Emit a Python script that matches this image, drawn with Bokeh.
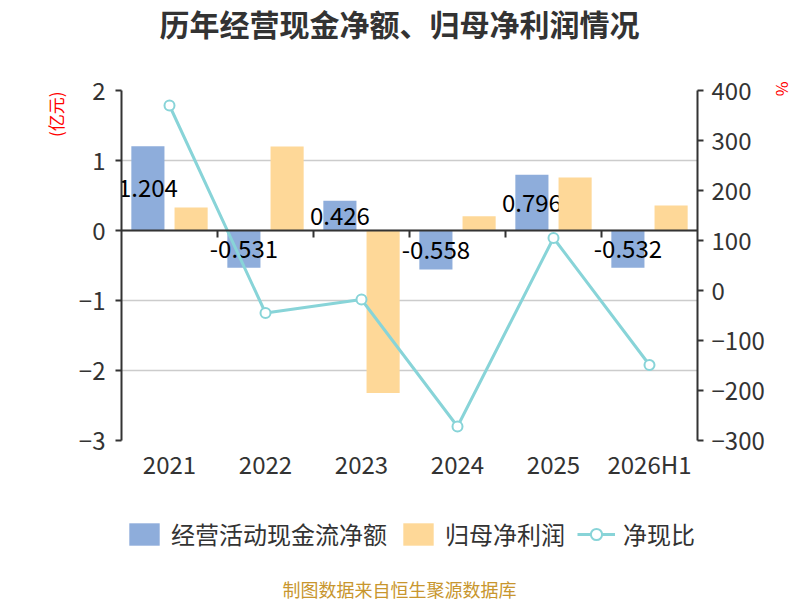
from bokeh.plotting import figure
from bokeh.layouts import column
from bokeh.models import (Range1d, LinearAxis, FixedTicker, Span, Legend, LegendItem,
                          Title, ColumnDataSource)
from bokeh.core.properties import value
from bokeh.embed import file_html
from bokeh.resources import INLINE

# ---- data ----
categories = ["2021", "2022", "2023", "2024", "2025", "2026H1"]
cash_flow = [1.204, -0.531, 0.426, -0.558, 0.796, -0.532]      # 经营活动现金流净额 (亿元)
net_profit = [0.33, 1.20, -2.32, 0.205, 0.757, 0.357]           # 归母净利润 (亿元)
cash_ratio = [370, -45, -18, -272, 105, -149]                   # 净现比 (%)
left_ticks = [-3, -2, -1, 0, 1, 2]
right_ticks = [-300, -200, -100, 0, 100, 200, 300, 400]
title_text = "历年经营现金净额、归母净利润情况"
source_text = "制图数据来自恒生聚源数据库"
series_names = ["经营活动现金流净额", "归母净利润", "净现比"]

FONT = "Noto Sans CJK SC"
BLUE = "#8eaddb"
ORANGE = "#fed898"
TEAL = "#88d4d8"
AX = "#333333"

W = 800
H_TOP, H_MAIN, H_BOT = 60, 430, 110
FL, FR = 121, 699          # frame edges shared by the stacked figures
NAN = float("nan")


def bare(fig):
    fig.outline_line_color = None
    fig.background_fill_color = "white"
    fig.border_fill_color = "white"
    fig.xgrid.grid_line_color = None
    fig.ygrid.grid_line_color = None


# ---------- title strip ----------
p0 = figure(width=W, height=H_TOP, output_backend="svg", toolbar_location=None,
            x_range=Range1d(FL, FR), y_range=Range1d(0, H_TOP), min_border=0,
            x_axis_location=None, y_axis_location=None)
bare(p0)
p0.text(x=[W / 2], y=[H_TOP - 22], text=[title_text], text_font=value(FONT),
        text_font_size="30px", text_font_style="bold", text_color="#333333",
        text_align="center", text_baseline="middle")

# ---------- main chart ----------
p = figure(width=W, height=H_MAIN, output_backend="svg", toolbar_location=None,
           x_range=Range1d(-0.5, len(categories) - 0.5), y_range=Range1d(-3, 2),
           min_border_left=FL, min_border_right=W - FR, min_border_top=30, min_border_bottom=50,
           x_axis_location=None, y_axis_location=None)
bare(p)
p.extra_y_ranges = {"pct": Range1d(-300, 400)}

xs = list(range(len(categories)))
xaxis = LinearAxis(ticker=FixedTicker(ticks=xs),
                   major_label_overrides={i: c for i, c in enumerate(categories)})
xaxis.axis_line_color = None
xaxis.major_tick_line_color = None
xaxis.minor_tick_line_color = None
xaxis.major_tick_out = 0
xaxis.major_tick_in = 0
xaxis.major_label_text_font = FONT
xaxis.major_label_text_font_size = "24px"
xaxis.major_label_text_color = AX
xaxis.major_label_standoff = 5
p.add_layout(xaxis, "below")

yl = LinearAxis(ticker=FixedTicker(ticks=left_ticks))
yl.axis_line_color = AX
yl.axis_line_width = 2
yl.major_tick_line_color = AX
yl.major_tick_line_width = 2
yl.major_tick_out = 6
yl.major_tick_in = 0
yl.minor_tick_line_color = None
yl.major_label_text_font = FONT
yl.major_label_text_font_size = "24px"
yl.major_label_text_color = AX
yl.major_label_standoff = 10
p.add_layout(yl, "left")

yr = LinearAxis(y_range_name="pct", ticker=FixedTicker(ticks=right_ticks))
yr.axis_line_color = AX
yr.axis_line_width = 2
yr.major_tick_line_color = AX
yr.major_tick_line_width = 2
yr.major_tick_out = 6
yr.major_tick_in = 0
yr.minor_tick_line_color = None
yr.major_label_text_font = FONT
yr.major_label_text_font_size = "24px"
yr.major_label_text_color = AX
yr.major_label_standoff = 8
p.add_layout(yr, "right")

p.add_layout(Title(text="(亿元)", align="right", offset=1, standoff=16,
                   text_font=FONT, text_font_size="17px", text_font_style="normal",
                   text_color="red"), "left")
p.add_layout(Title(text="%", align="left", offset=-9, standoff=7,
                   text_font=FONT, text_font_size="16px", text_font_style="normal",
                   text_color="red"), "right")

p.ygrid.ticker = FixedTicker(ticks=left_ticks)
p.ygrid.grid_line_color = "#cccccc"
p.ygrid.grid_line_width = 1.5

off = 0.225
bw = 0.345
src = ColumnDataSource(dict(
    xb=[x - off for x in xs], xo=[x + off for x in xs],
    cash=cash_flow, profit=net_profit,
    mid=[v / 2 for v in cash_flow],
    lab=["%.3f" % v for v in cash_flow],
))
p.vbar(x="xb", top="cash", bottom=0, width=bw, source=src, fill_color=BLUE, line_color=None)
p.text(x="xb", y="mid", text="lab", source=src, text_font=value(FONT),
       text_font_size="24px", text_color="black", text_align="center", text_baseline="middle")
p.vbar(x="xo", top="profit", bottom=0, width=bw, source=src, fill_color=ORANGE, line_color=None)

p.add_layout(Span(location=0, dimension="width", line_color=AX, line_width=2))
bounds = [x + 0.5 for x in xs[:-1]]
tick_len = 7 * 5 / 350.0
p.segment(x0=bounds, y0=[0] * len(bounds), x1=bounds, y1=[-tick_len] * len(bounds),
          line_color=AX, line_width=2)

p.line(x=xs, y=cash_ratio, y_range_name="pct", line_color=TEAL, line_width=3)
p.scatter(x=xs, y=cash_ratio, y_range_name="pct", size=10, marker="circle",
          fill_color="white", line_color=TEAL, line_width=2)

# ---------- legend + source strip ----------
p2 = figure(width=W, height=H_BOT, output_backend="svg", toolbar_location=None,
            x_range=Range1d(FL, FR), y_range=Range1d(0, H_BOT), min_border=0,
            x_axis_location=None, y_axis_location=None)
bare(p2)
# legend swatches (no visible data of their own)
k1 = p2.vbar(x=[NAN], top=[NAN], width=1, fill_color=BLUE, line_color=None)
k2 = p2.vbar(x=[NAN], top=[NAN], width=1, fill_color=ORANGE, line_color=None)
k3 = p2.line(x=[NAN], y=[NAN], line_color=TEAL, line_width=3)
k4 = p2.scatter(x=[NAN], y=[NAN], size=24, marker="circle", fill_color="white",
                line_color=TEAL, line_width=2)
legend = Legend(items=[
    LegendItem(label=series_names[0], renderers=[k1]),
    LegendItem(label=series_names[1], renderers=[k2]),
    LegendItem(label=series_names[2], renderers=[k3, k4]),
], location=(4, 49), orientation="horizontal")
legend.glyph_width = 38
legend.glyph_height = 28
legend.label_standoff = 8
legend.spacing = 12
legend.padding = 0
legend.margin = 0
legend.border_line_color = None
legend.background_fill_alpha = 0
legend.label_text_font = FONT
legend.label_text_font_size = "24px"
legend.label_text_color = AX
p2.add_layout(legend, "center")

p2.text(x=[W / 2], y=[H_BOT - 98], text=[source_text], text_font=value(FONT),
        text_font_size="18px", text_color="#c8962e", text_align="center",
        text_baseline="middle")

layout = column(p0, p, p2, spacing=0)
open("out.html", "w").write(file_html(layout, INLINE))
